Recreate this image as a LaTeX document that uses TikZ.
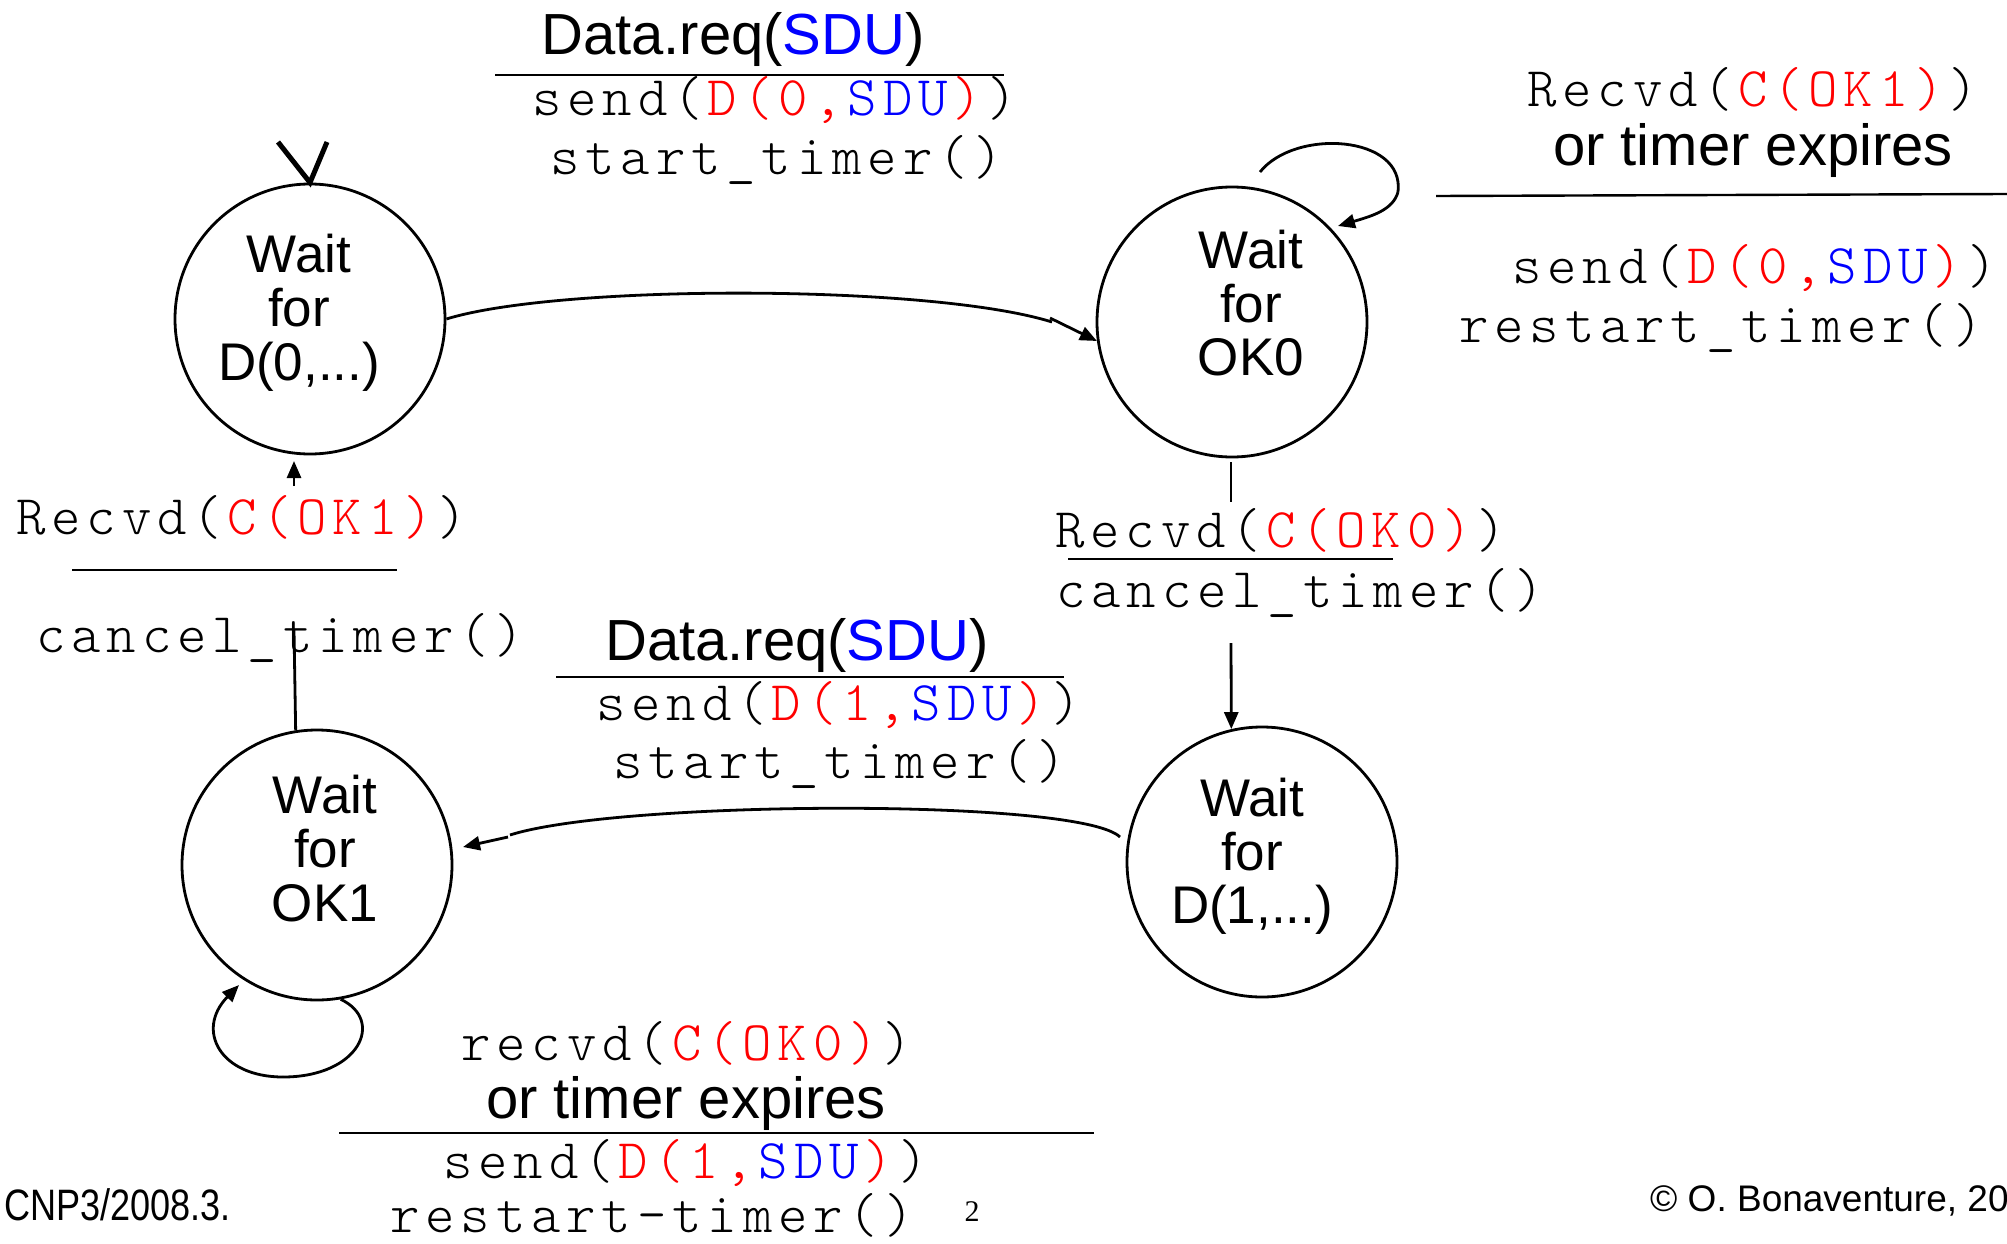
\documentclass[tikz,border=0pt]{standalone}
\usepackage{fontspec}
\setmainfont{Liberation Sans}
\newfontfamily\codefont[LetterSpace=10.5]{lmmonolt10-regular.otf}
\newfontfamily\pagenumfont{Liberation Serif}
\usetikzlibrary{arrows.meta}
% letter spacing is lost where a colour change splits a run of glyphs
\newcommand\lk{\kern5pt}
\newcommand\colr[1]{\textcolor{red}{#1}}
\newcommand\colb[1]{\textcolor{blue}{#1}}

\begin{document}
\begin{tikzpicture}[x=1pt,y=-1pt,
  state/.style={circle, draw, line width=2.8pt, minimum size=270pt, inner sep=0pt},
  stxt/.style={anchor=base, inner sep=0pt, font=\fontsize{53}{54}\selectfont},
  lbl/.style={anchor=base west, inner sep=0pt, font=\fontsize{58}{60}\selectfont},
  code/.style={anchor=base west, inner sep=0pt, font=\codefont\fontsize{56}{60}\selectfont},
  conn/.style={line width=2.8pt},
  arr/.style={conn, -{Triangle[length=17pt,width=14pt]}},
  bar/.style={line width=2.4pt},
  foot/.style={anchor=base west, inner sep=0pt}]

\useasboundingbox (0,0) rectangle (2007,1244);

% states
\node[state] (C1) at (310,319) {};
\node[state] (C2) at (1232,322) {};
\node[state] (C3) at (317,865) {};
\node[state] (C4) at (1262,862) {};

\node[stxt] (C1a) at (299,272) {Wait};
\node[stxt] (C1b) at (299,326) {for};
\node[stxt] (C1c) at (299,380) {D(0,...)};
\node[stxt] (C2a) at (1251,268) {Wait};
\node[stxt] (C2b) at (1251,322) {for};
\node[stxt] (C2c) at (1251,375) {OK0};
\node[stxt] (C3a) at (325,813) {Wait};
\node[stxt] (C3b) at (325,867) {for};
\node[stxt] (C3c) at (325,921) {OK1};
\node[stxt] (C4a) at (1252,816) {Wait};
\node[stxt] (C4b) at (1252,870) {for};
\node[stxt] (C4c) at (1252,923) {D(1,...)};

% initial-state marker
\coordinate (vl) at (278,142);
\coordinate (vr) at (327,142);
\draw[line width=5pt, line join=miter] (vl) -- (C1.north) -- (vr);

% Wait for D(0,...) -> Wait for OK0
\coordinate (k1) at (1052,322);
\coordinate (k2) at (1050,318);
\draw[conn] (C1.east) .. controls (560,284) and (930,284) .. (k1);
\draw[arr] (k2) -- (C2.188);

% self-loop on Wait for OK0
\coordinate (l1) at (1260,172);
\coordinate (l2) at (1398,192);
\coordinate (l3) at (1338,226);
\draw[conn] (l1) .. controls (1295,128) and (1405,135) .. (l2);
\draw[arr] (l2) .. controls (1393,210) and (1372,216) .. (l3);

% Wait for OK0 -> Wait for D(1,...)
\coordinate (d1) at (1231,462);
\coordinate (d2) at (1231,502);
\coordinate (d3) at (1231,643);
\draw[conn] (d1) -- (d2);
\draw[arr] (d3) -- (C4.103);

% Wait for D(1,...) -> Wait for OK1
\coordinate (b1) at (1120,837);
\coordinate (b2) at (510,835);
\coordinate (b3) at (508,837);
\coordinate (b4) at (463,847);
\draw[conn] (b1) .. controls (1080,798) and (620,800) .. (b2);
\draw[arr] (b3) -- (b4);

% Wait for OK1 -> Wait for D(0,...)
\coordinate (u1) at (294,630);
\coordinate (u2) at (294,486);
\coordinate (u3) at (294,461);
\draw[conn] (C3.99) -- (u1);
\draw[arr] (u2) -- (u3);

% self-loop on Wait for OK1
\coordinate (s1) at (283,1077);
\coordinate (s2) at (239,985);
\draw[conn] (C3.-80) .. controls (385,1020) and (360,1077) .. (s1);
\draw[arr] (s1) .. controls (220,1077) and (195,1030) .. (s2);

% transition labels
\node[lbl] (t1a) at (541,55) {Data.req(\colb{SDU})};
\coordinate (t1l) at (495,75); \coordinate (t1r) at (1004,75);
\draw[bar] (t1l) -- (t1r);
\node[code] (t1b) at (532,116) {send(\lk\colr{D(0,}\lk\colb{SDU}\lk\colr{)}\lk)};
\node[code] (t1c) at (550,175) {start\_timer()};

\node[code] (t2a) at (1527,107) {Recvd(\lk\colr{C(OK1)}\lk)};
\node[lbl] (t2b) at (1553,165) {or timer expires};
\coordinate (t2l) at (1436,196); \coordinate (t2r) at (2007,194);
\draw[bar] (t2l) -- (t2r);
\node[code] (t2c) at (1512,283) {send(\lk\colr{D(0,}\lk\colb{SDU}\lk\colr{)}\lk)};
\node[code] (t2d) at (1459,342) {restart\_timer()};

\node[code] (t3a) at (16,534) {Recvd(\lk\colr{C(OK1)}\lk)};
\coordinate (t3l) at (72,570); \coordinate (t3r) at (397,570);
\draw[bar] (t3l) -- (t3r);
\node[code] (t3b) at (36,652) {cancel\_timer()};

\node[code] (t4a) at (1055,547) {Recvd(\lk\colr{C(OK0)}\lk)};
\coordinate (t4l) at (1068,559); \coordinate (t4r) at (1393,559);
\draw[bar] (t4l) -- (t4r);
\node[code] (t4b) at (1056,607) {cancel\_timer()};

\node[lbl] (t5a) at (605,660) {Data.req(\colb{SDU})};
\coordinate (t5l) at (556,677); \coordinate (t5r) at (1064,677);
\draw[bar] (t5l) -- (t5r);
\node[code] (t5b) at (596,720) {send(\lk\colr{D(1,}\lk\colb{SDU}\lk\colr{)}\lk)};
\node[code] (t5c) at (613,778) {start\_timer()};

\node[code] (t6a) at (461,1060) {recvd(\lk\colr{C(OK0)}\lk)};
\node[lbl] (t6b) at (486,1118) {or timer expires};
\coordinate (t6l) at (339,1133); \coordinate (t6r) at (1094,1133);
\draw[bar] (t6l) -- (t6r);
\node[code] (t6c) at (443,1178) {send(\lk\colr{D(1,}\lk\colb{SDU}\lk\colr{)}\lk)};
\node[code] (t6d) at (390,1232) {restart-timer()};

% footer
\node[foot, font=\fontsize{44}{48}\selectfont] (f1) at (4,1220) {\scalebox{0.82}[1]{CNP3/2008.3.}};
\node[anchor=base, inner sep=0pt, font=\pagenumfont\fontsize{30}{32}\selectfont] (f2) at (972,1221) {2};
\node[foot, font=\fontsize{37}{40}\selectfont] (f3) at (1650,1211) {\textcopyright{} O. Bonaventure, 20};
\end{tikzpicture}
\end{document}
